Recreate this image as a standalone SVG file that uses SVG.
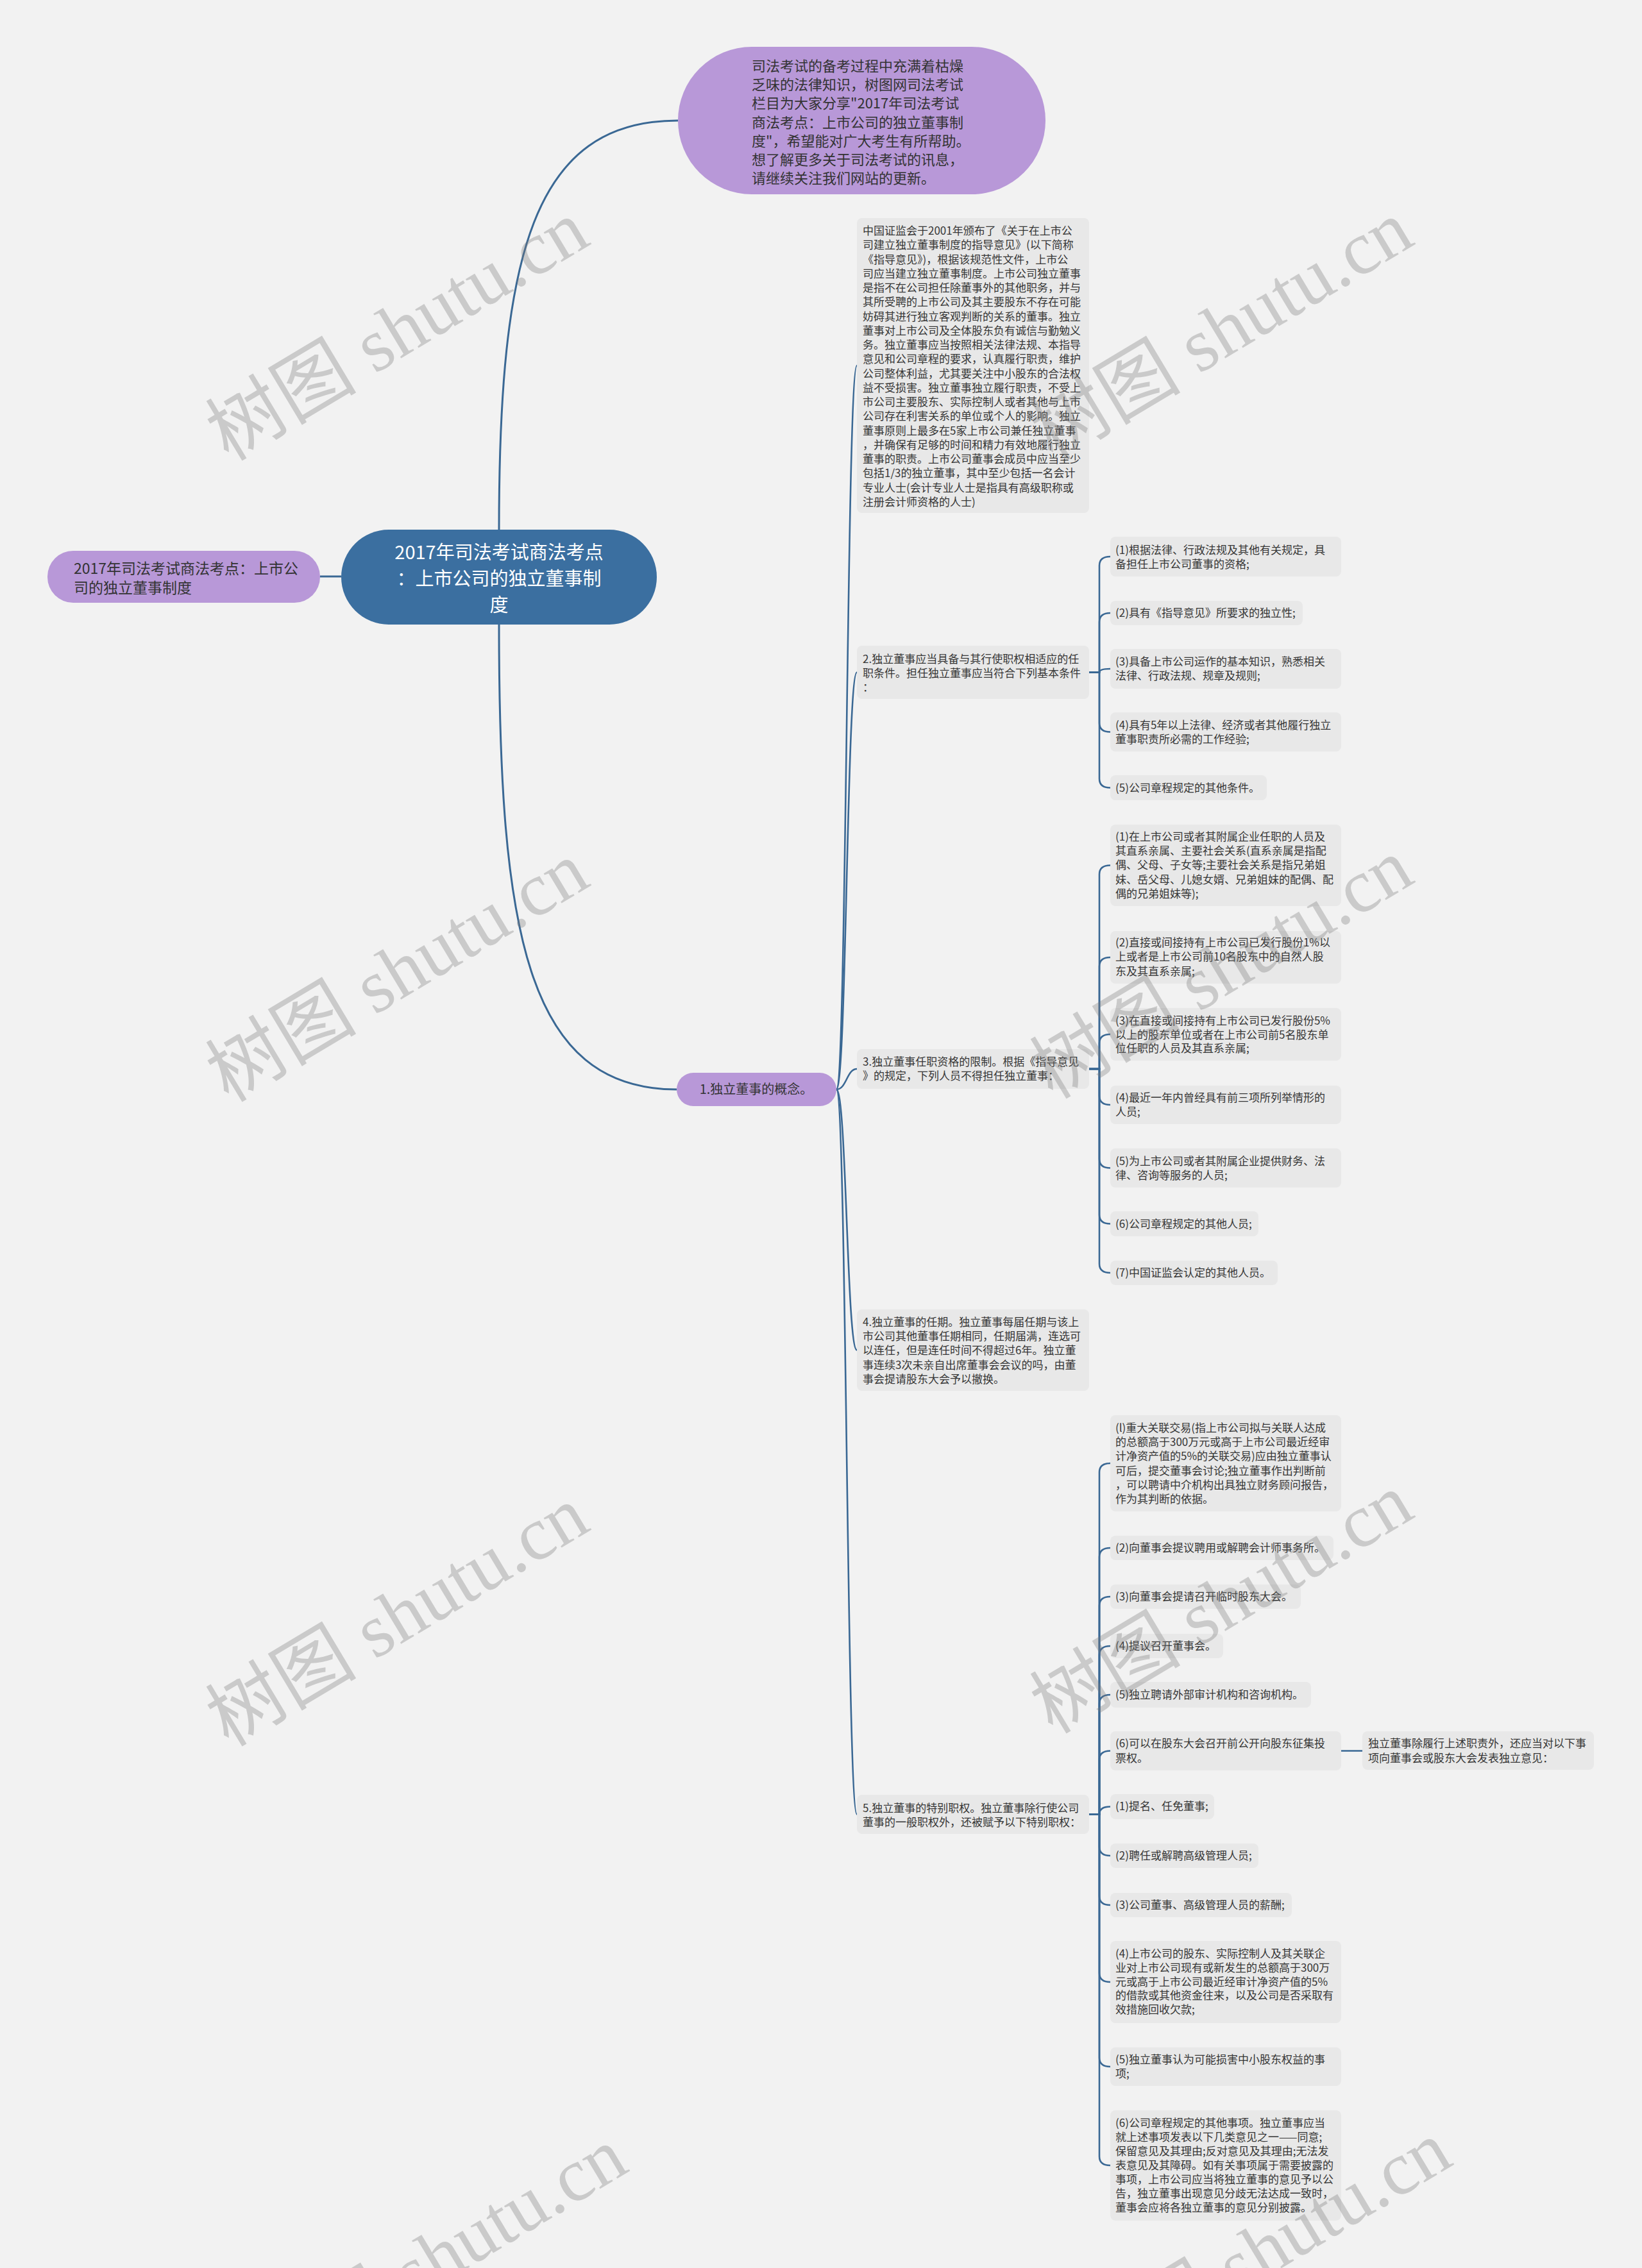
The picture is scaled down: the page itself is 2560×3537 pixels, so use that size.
<svg xmlns="http://www.w3.org/2000/svg" width="2560" height="3537" viewBox="0 0 2560 3537">
<style>
.box{fill:#e8e8e8}
.t{font-family:"Noto Sans CJK SC","Liberation Sans",sans-serif;font-size:17px;fill:#363636}
.link{fill:none;stroke:#3a6894;stroke-width:2.6}
.main{fill:none;stroke:#3a6894;stroke-width:3}
.purple{fill:#b898d8}
.wm{font-family:"Liberation Serif","Noto Sans CJK SC",serif;font-size:118px;fill:#7a7a7a;opacity:0.33}
</style>
<rect x="0" y="0" width="2560" height="3537" fill="#f2f2f2"/>
<g id="connectors">
<path class="main" d="M778,826 C778,400 830,188 1057,188"/>
<path class="main" d="M778,974 C778,1450 820,1699 1055,1699"/>
<path class="main" d="M499,899 H532"/>
<path class="link" d="M1304,1699 C1320,1699 1320,570 1336,570"/>
<path class="link" d="M1304,1699 C1320,1699 1320,1048.5 1336,1048.5"/>
<path class="link" d="M1304,1699 C1320,1699 1320,1667 1336,1667"/>
<path class="link" d="M1304,1699 C1320,1699 1320,2105.5 1336,2105.5"/>
<path class="link" d="M1304,1699 C1320,1699 1320,2829.5 1336,2829.5"/>
<path class="link" d="M1698,1048.5 H1714 V882 Q1714,868 1731,868"/>
<path class="link" d="M1698,1048.5 H1714 V970 Q1714,956 1731,956"/>
<path class="link" d="M1698,1048.5 H1714 Q1714,1043 1731,1043"/>
<path class="link" d="M1698,1048.5 H1714 V1127.5 Q1714,1141.5 1731,1141.5"/>
<path class="link" d="M1698,1048.5 H1714 V1214.5 Q1714,1228.5 1731,1228.5"/>
<path class="link" d="M1698,1667 H1714 V1363.5 Q1714,1349.5 1731,1349.5"/>
<path class="link" d="M1698,1667 H1714 V1507 Q1714,1493 1731,1493"/>
<path class="link" d="M1698,1667 H1714 V1627 Q1714,1613 1731,1613"/>
<path class="link" d="M1698,1667 H1714 V1709 Q1714,1723 1731,1723"/>
<path class="link" d="M1698,1667 H1714 V1807.5 Q1714,1821.5 1731,1821.5"/>
<path class="link" d="M1698,1667 H1714 V1894.5 Q1714,1908.5 1731,1908.5"/>
<path class="link" d="M1698,1667 H1714 V1971 Q1714,1985 1731,1985"/>
<path class="link" d="M1698,2829.5 H1714 V2296 Q1714,2282 1731,2282"/>
<path class="link" d="M1698,2829.5 H1714 V2428 Q1714,2414 1731,2414"/>
<path class="link" d="M1698,2829.5 H1714 V2504 Q1714,2490 1731,2490"/>
<path class="link" d="M1698,2829.5 H1714 V2581 Q1714,2567 1731,2567"/>
<path class="link" d="M1698,2829.5 H1714 V2657 Q1714,2643 1731,2643"/>
<path class="link" d="M1698,2829.5 H1714 V2744.5 Q1714,2730.5 1731,2730.5"/>
<path class="link" d="M1698,2829.5 H1714 Q1714,2817.5 1731,2817.5"/>
<path class="link" d="M1698,2829.5 H1714 V2880 Q1714,2894 1731,2894"/>
<path class="link" d="M1698,2829.5 H1714 V2957 Q1714,2971 1731,2971"/>
<path class="link" d="M1698,2829.5 H1714 V3077 Q1714,3091 1731,3091"/>
<path class="link" d="M1698,2829.5 H1714 V3209 Q1714,3223 1731,3223"/>
<path class="link" d="M1698,2829.5 H1714 V3363 Q1714,3377 1731,3377"/>
<path class="link" d="M2091,2730.5 H2124"/>
</g>
<g id="center">
<rect x="532" y="826" width="492" height="148" rx="74" fill="#3b6fa0"/>
<text font-family="Noto Sans CJK SC, Liberation Sans, sans-serif" font-size="29" fill="#ffffff" text-anchor="middle"><tspan x="778" y="872">2017年司法考试商法考点</tspan><tspan x="778" y="913">：上市公司的独立董事制</tspan><tspan x="778" y="954">度</tspan></text>
</g>
<g id="left-node">
<rect class="purple" x="74" y="859" width="425" height="81" rx="40"/>
<text font-family="Noto Sans CJK SC, Liberation Sans, sans-serif" font-size="23" fill="#333"><tspan x="115" y="895">2017年司法考试商法考点：上市公</tspan><tspan x="115" y="925">司的独立董事制度</tspan></text>
</g>
<g id="intro">
<rect class="purple" x="1057" y="73" width="573" height="230" rx="115"/>
<text font-family="Noto Sans CJK SC, Liberation Sans, sans-serif" font-size="22" fill="#333"><tspan x="1172" y="111">司法考试的备考过程中充满着枯燥</tspan><tspan x="1172" y="140.2">乏味的法律知识，树图网司法考试</tspan><tspan x="1172" y="169.4">栏目为大家分享"2017年司法考试</tspan><tspan x="1172" y="198.6">商法考点：上市公司的独立董事制</tspan><tspan x="1172" y="227.8">度"，希望能对广大考生有所帮助。</tspan><tspan x="1172" y="257">想了解更多关于司法考试的讯息，</tspan><tspan x="1172" y="286.2">请继续关注我们网站的更新。</tspan></text>
</g>
<g id="node1">
<rect class="purple" x="1055" y="1673" width="249" height="52" rx="26"/>
<text font-family="Noto Sans CJK SC, Liberation Sans, sans-serif" font-size="20" fill="#333" text-anchor="middle" x="1179" y="1706">1.独立董事的概念。</text>
</g>
<g id="concept">
<rect class="box" x="1336" y="340" width="362" height="460" rx="8"/>
<text class="t"><tspan x="1345" y="366">中国证监会于2001年颁布了《关于在上市公</tspan><tspan x="1345" dy="22.26">司建立独立董事制度的指导意见》(以下简称</tspan><tspan x="1345" dy="22.26">《指导意见》)，根据该规范性文件，上市公</tspan><tspan x="1345" dy="22.26">司应当建立独立董事制度。上市公司独立董事</tspan><tspan x="1345" dy="22.26">是指不在公司担任除董事外的其他职务，并与</tspan><tspan x="1345" dy="22.26">其所受聘的上市公司及其主要股东不存在可能</tspan><tspan x="1345" dy="22.26">妨碍其进行独立客观判断的关系的董事。独立</tspan><tspan x="1345" dy="22.26">董事对上市公司及全体股东负有诚信与勤勉义</tspan><tspan x="1345" dy="22.26">务。独立董事应当按照相关法律法规、本指导</tspan><tspan x="1345" dy="22.26">意见和公司章程的要求，认真履行职责，维护</tspan><tspan x="1345" dy="22.26">公司整体利益，尤其要关注中小股东的合法权</tspan><tspan x="1345" dy="22.26">益不受损害。独立董事独立履行职责，不受上</tspan><tspan x="1345" dy="22.26">市公司主要股东、实际控制人或者其他与上市</tspan><tspan x="1345" dy="22.26">公司存在利害关系的单位或个人的影响。独立</tspan><tspan x="1345" dy="22.26">董事原则上最多在5家上市公司兼任独立董事</tspan><tspan x="1345" dy="22.26">，并确保有足够的时间和精力有效地履行独立</tspan><tspan x="1345" dy="22.26">董事的职责。上市公司董事会成员中应当至少</tspan><tspan x="1345" dy="22.26">包括1/3的独立董事，其中至少包括一名会计</tspan><tspan x="1345" dy="22.26">专业人士(会计专业人士是指具有高级职称或</tspan><tspan x="1345" dy="22.26">注册会计师资格的人士)</tspan></text>
</g>
<g id="node2">
<rect class="box" x="1336" y="1007" width="362" height="83" rx="8"/>
<text class="t"><tspan x="1345" y="1034">2.独立董事应当具备与其行使职权相适应的任</tspan><tspan x="1345" dy="22">职条件。担任独立董事应当符合下列基本条件</tspan><tspan x="1345" dy="22">：</tspan></text>
</g>
<g id="node2-1">
<rect class="box" x="1731" y="837" width="360" height="62" rx="8"/>
<text class="t"><tspan x="1739" y="864">(1)根据法律、行政法规及其他有关规定，具</tspan><tspan x="1739" dy="22">备担任上市公司董事的资格;</tspan></text>
</g>
<g id="node2-2">
<rect class="box" x="1731" y="937" width="300" height="38" rx="8"/>
<text class="t" x="1739" y="962">(2)具有《指导意见》所要求的独立性;</text>
</g>
<g id="node2-3">
<rect class="box" x="1731" y="1012" width="360" height="62" rx="8"/>
<text class="t"><tspan x="1739" y="1038">(3)具备上市公司运作的基本知识，熟悉相关</tspan><tspan x="1739" dy="22">法律、行政法规、规章及规则;</tspan></text>
</g>
<g id="node2-4">
<rect class="box" x="1731" y="1111" width="360" height="61" rx="8"/>
<text class="t"><tspan x="1739" y="1137">(4)具有5年以上法律、经济或者其他履行独立</tspan><tspan x="1739" dy="22">董事职责所必需的工作经验;</tspan></text>
</g>
<g id="node2-5">
<rect class="box" x="1731" y="1209" width="244" height="39" rx="8"/>
<text class="t" x="1739" y="1235">(5)公司章程规定的其他条件。</text>
</g>
<g id="node3">
<rect class="box" x="1336" y="1636" width="362" height="62" rx="8"/>
<text class="t"><tspan x="1345" y="1662">3.独立董事任职资格的限制。根据《指导意见</tspan><tspan x="1345" dy="22">》的规定，下列人员不得担任独立董事：</tspan></text>
</g>
<g id="node3-1">
<rect class="box" x="1731" y="1286" width="360" height="127" rx="8"/>
<text class="t"><tspan x="1739" y="1311">(1)在上市公司或者其附属企业任职的人员及</tspan><tspan x="1739" dy="22.2">其直系亲属、主要社会关系(直系亲属是指配</tspan><tspan x="1739" dy="22.2">偶、父母、子女等;主要社会关系是指兄弟姐</tspan><tspan x="1739" dy="22.2">妹、岳父母、儿媳女婿、兄弟姐妹的配偶、配</tspan><tspan x="1739" dy="22.2">偶的兄弟姐妹等);</tspan></text>
</g>
<g id="node3-2">
<rect class="box" x="1731" y="1452" width="360" height="82" rx="8"/>
<text class="t"><tspan x="1739" y="1476">(2)直接或间接持有上市公司已发行股份1%以</tspan><tspan x="1739" dy="22.3">上或者是上市公司前10名股东中的自然人股</tspan><tspan x="1739" dy="22.3">东及其直系亲属;</tspan></text>
</g>
<g id="node3-3">
<rect class="box" x="1731" y="1572" width="360" height="82" rx="8"/>
<text class="t"><tspan x="1739" y="1598">(3)在直接或间接持有上市公司已发行股份5%</tspan><tspan x="1739" dy="21.7">以上的股东单位或者在上市公司前5名股东单</tspan><tspan x="1739" dy="21.7">位任职的人员及其直系亲属;</tspan></text>
</g>
<g id="node3-4">
<rect class="box" x="1731" y="1693" width="360" height="60" rx="8"/>
<text class="t"><tspan x="1739" y="1718">(4)最近一年内曾经具有前三项所列举情形的</tspan><tspan x="1739" dy="22">人员;</tspan></text>
</g>
<g id="node3-5">
<rect class="box" x="1731" y="1791" width="360" height="61" rx="8"/>
<text class="t"><tspan x="1739" y="1817">(5)为上市公司或者其附属企业提供财务、法</tspan><tspan x="1739" dy="22">律、咨询等服务的人员;</tspan></text>
</g>
<g id="node3-6">
<rect class="box" x="1731" y="1889" width="231" height="39" rx="8"/>
<text class="t" x="1739" y="1915">(6)公司章程规定的其他人员;</text>
</g>
<g id="node3-7">
<rect class="box" x="1731" y="1966" width="261" height="38" rx="8"/>
<text class="t" x="1739" y="1991">(7)中国证监会认定的其他人员。</text>
</g>
<g id="node4">
<rect class="box" x="1336" y="2042" width="362" height="127" rx="8"/>
<text class="t"><tspan x="1345" y="2068">4.独立董事的任期。独立董事每届任期与该上</tspan><tspan x="1345" dy="22.2">市公司其他董事任期相同，任期届满，连选可</tspan><tspan x="1345" dy="22.2">以连任，但是连任时间不得超过6年。独立董</tspan><tspan x="1345" dy="22.2">事连续3次未亲自出席董事会会议的吗，由董</tspan><tspan x="1345" dy="22.2">事会提请股东大会予以撤换。</tspan></text>
</g>
<g id="node5">
<rect class="box" x="1336" y="2799" width="362" height="61" rx="8"/>
<text class="t"><tspan x="1345" y="2826">5.独立董事的特别职权。独立董事除行使公司</tspan><tspan x="1345" dy="22">董事的一般职权外，还被赋予以下特别职权：</tspan></text>
</g>
<g id="node5-1">
<rect class="box" x="1731" y="2207" width="360" height="150" rx="8"/>
<text class="t"><tspan x="1739" y="2233">(l)重大关联交易(指上市公司拟与关联人达成</tspan><tspan x="1739" dy="22.2">的总额高于300万元或高于上市公司最近经审</tspan><tspan x="1739" dy="22.2">计净资产值的5%的关联交易)应由独立董事认</tspan><tspan x="1739" dy="22.2">可后，提交董事会讨论;独立董事作出判断前</tspan><tspan x="1739" dy="22.2">，可以聘请中介机构出具独立财务顾问报告，</tspan><tspan x="1739" dy="22.2">作为其判断的依据。</tspan></text>
</g>
<g id="node5-2">
<rect class="box" x="1731" y="2395" width="348" height="38" rx="8"/>
<text class="t" x="1739" y="2420">(2)向董事会提议聘用或解聘会计师事务所。</text>
</g>
<g id="node5-3">
<rect class="box" x="1731" y="2471" width="297" height="38" rx="8"/>
<text class="t" x="1739" y="2496">(3)向董事会提请召开临时股东大会。</text>
</g>
<g id="node5-4">
<rect class="box" x="1731" y="2548" width="176" height="38" rx="8"/>
<text class="t" x="1739" y="2573">(4)提议召开董事会。</text>
</g>
<g id="node5-5">
<rect class="box" x="1731" y="2623" width="313" height="40" rx="8"/>
<text class="t" x="1739" y="2649">(5)独立聘请外部审计机构和咨询机构。</text>
</g>
<g id="node5-6">
<rect class="box" x="1731" y="2700" width="360" height="61" rx="8"/>
<text class="t"><tspan x="1739" y="2725">(6)可以在股东大会召开前公开向股东征集投</tspan><tspan x="1739" dy="22.5">票权。</tspan></text>
</g>
<g id="node5-6-1">
<rect class="box" x="2124" y="2700" width="361" height="60" rx="8"/>
<text class="t"><tspan x="2133" y="2725">独立董事除履行上述职责外，还应当对以下事</tspan><tspan x="2133" dy="22.5">项向董事会或股东大会发表独立意见：</tspan></text>
</g>
<g id="node5-7">
<rect class="box" x="1731" y="2798" width="162" height="39" rx="8"/>
<text class="t" x="1739" y="2823">(1)提名、任免董事;</text>
</g>
<g id="node5-8">
<rect class="box" x="1731" y="2875" width="231" height="38" rx="8"/>
<text class="t" x="1739" y="2900">(2)聘任或解聘高级管理人员;</text>
</g>
<g id="node5-9">
<rect class="box" x="1731" y="2952" width="283" height="38" rx="8"/>
<text class="t" x="1739" y="2977">(3)公司董事、高级管理人员的薪酬;</text>
</g>
<g id="node5-10">
<rect class="box" x="1731" y="3027" width="360" height="128" rx="8"/>
<text class="t"><tspan x="1739" y="3053">(4)上市公司的股东、实际控制人及其关联企</tspan><tspan x="1739" dy="21.8">业对上市公司现有或新发生的总额高于300万</tspan><tspan x="1739" dy="21.8">元或高于上市公司最近经审计净资产值的5%</tspan><tspan x="1739" dy="21.8">的借款或其他资金往来，以及公司是否采取有</tspan><tspan x="1739" dy="21.8">效措施回收欠款;</tspan></text>
</g>
<g id="node5-11">
<rect class="box" x="1731" y="3193" width="360" height="60" rx="8"/>
<text class="t"><tspan x="1739" y="3218">(5)独立董事认为可能损害中小股东权益的事</tspan><tspan x="1739" dy="22.3">项;</tspan></text>
</g>
<g id="node5-12">
<rect class="box" x="1731" y="3291" width="360" height="172" rx="8"/>
<text class="t"><tspan x="1739" y="3317">(6)公司章程规定的其他事项。独立董事应当</tspan><tspan x="1739" dy="22">就上述事项发表以下几类意见之一——同意;</tspan><tspan x="1739" dy="22">保留意见及其理由;反对意见及其理由;无法发</tspan><tspan x="1739" dy="22">表意见及其障碍。如有关事项属于需要披露的</tspan><tspan x="1739" dy="22">事项，上市公司应当将独立董事的意见予以公</tspan><tspan x="1739" dy="22">告，独立董事出现意见分歧无法达成一致时，</tspan><tspan x="1739" dy="22">董事会应将各独立董事的意见分别披露。</tspan></text>
</g>
<g id="watermarks">
<text class="wm" text-anchor="middle" transform="translate(640,550) rotate(-31)">树图 shutu.cn</text>
<text class="wm" text-anchor="middle" transform="translate(1925,550) rotate(-31)">树图 shutu.cn</text>
<text class="wm" text-anchor="middle" transform="translate(640,1550) rotate(-31)">树图 shutu.cn</text>
<text class="wm" text-anchor="middle" transform="translate(1925,1545) rotate(-31)">树图 shutu.cn</text>
<text class="wm" text-anchor="middle" transform="translate(640,2555) rotate(-31)">树图 shutu.cn</text>
<text class="wm" text-anchor="middle" transform="translate(1925,2535) rotate(-31)">树图 shutu.cn</text>
<text class="wm" text-anchor="middle" transform="translate(700,3555) rotate(-31)">树图 shutu.cn</text>
<text class="wm" text-anchor="middle" transform="translate(1985,3545) rotate(-31)">树图 shutu.cn</text>
</g>
</svg>
